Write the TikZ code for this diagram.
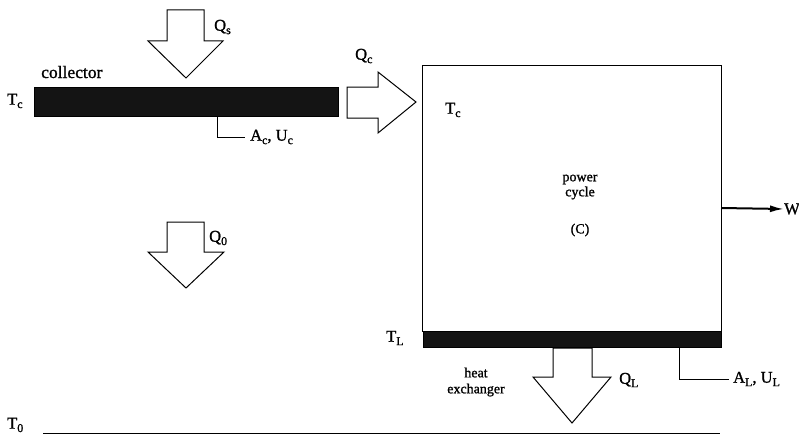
\documentclass[tikz,border=0pt]{standalone}
\usepackage{fontspec}
\setmainfont{Liberation Serif}[FakeBold=1.2]
\usetikzlibrary{arrows.meta}
\newcommand\sbs[1]{\raisebox{-0.45ex}{\fontsize{12}{12}\selectfont #1}}
\begin{document}
\begin{tikzpicture}[x=1pt,y=-1pt,
  lbl/.style={inner sep=0pt,font=\fontsize{16.5}{16.5}\selectfont},
  small/.style={inner sep=0pt,font=\fontsize{14}{16}\selectfont,align=center},
  bigarrow/.style={draw,line width=1pt,fill=white,line join=miter},
  bar/.style={fill=black!92,draw=black},
  leader/.style={line width=0.9pt},
  thin/.style={line width=0.9pt}]
\useasboundingbox (0,0) rectangle (799,436);
% Qs arrow
\draw[bigarrow] (167,10) -- (204,10) -- (204,41) -- (223,41) -- (186,78) -- (148,41) -- (167,41) -- cycle;
\node[lbl,anchor=west] (qs) at (214,27) {Q\sbs{s}};
% collector bar
\node[bar,minimum width=304pt,minimum height=29pt,anchor=north west,inner sep=0pt] (coll) at (34,87) {};
\node[lbl,font=\fontsize{17.5}{17.5}\selectfont,anchor=base west] (colltxt) at (41,78) {collector};
\node[lbl,anchor=west] (tc1) at (7,101) {T\sbs{c}};
\coordinate (ac0) at (217,116);
\coordinate (ac1) at (217,137);
\coordinate (ac2) at (245,137);
\draw[leader] (ac0) -- (ac1) -- (ac2);
\node[lbl,anchor=west] (acuc) at (250,137) {A\sbs{c}, U\sbs{c}};
% Qc arrow
\draw[bigarrow] (347,87) -- (378,87) -- (378,72) -- (416,102) -- (378,133) -- (378,118) -- (347,118) -- cycle;
\node[lbl,anchor=west] (qc) at (355,56) {Q\sbs{c}};
% power cycle box
\coordinate (boxnw) at (422,65);
\coordinate (boxse) at (721,331);
\draw[thin] (boxnw) rectangle (boxse);
\node[bar,minimum width=298pt,minimum height=16pt,anchor=north west,inner sep=0pt] (lbar) at (423,331) {};
\node[lbl,anchor=west] (tc2) at (445,110) {T\sbs{c}};
\node[small] (power) at (580,187) {power\\[-1pt]cycle};
\node[small] (cc) at (580,230) {(C)};
\coordinate (wstart) at (721,208);
\node[lbl,anchor=west] (w) at (784,209) {W};
\draw[line width=2pt,-{Latex[length=14pt,width=7pt]}] (wstart) -- (w.west);
% TL
\node[lbl,anchor=west] (tl) at (386,338) {T\sbs{L}};
\coordinate (al0) at (679,347);
\coordinate (al1) at (679,379);
\coordinate (al2) at (729,379);
\draw[leader] (al0) -- (al1) -- (al2);
\node[lbl,anchor=west] (alul) at (733,379) {A\sbs{L}, U\sbs{L}};
% QL arrow
\draw[bigarrow] (553,348) -- (592,348) -- (592,377) -- (611,377) -- (572,423) -- (533,377) -- (553,377) -- cycle;
\node[lbl,anchor=west] (ql) at (619,380) {Q\sbs{L}};
\node[small] (hx) at (476,382) {heat\\exchanger};
% Q0 arrow
\draw[bigarrow] (167,222) -- (204,222) -- (204,252) -- (224,252) -- (186,288) -- (148,252) -- (167,252) -- cycle;
\node[lbl,anchor=west] (q0) at (209,238) {Q\sbs{0}};
% T0 line
\node[lbl,anchor=west] (t0) at (7,425) {T\sbs{0}};
\coordinate (t0end) at (720,433);
\draw[thin] (43,433) -- (t0end);
\end{tikzpicture}
\end{document}
